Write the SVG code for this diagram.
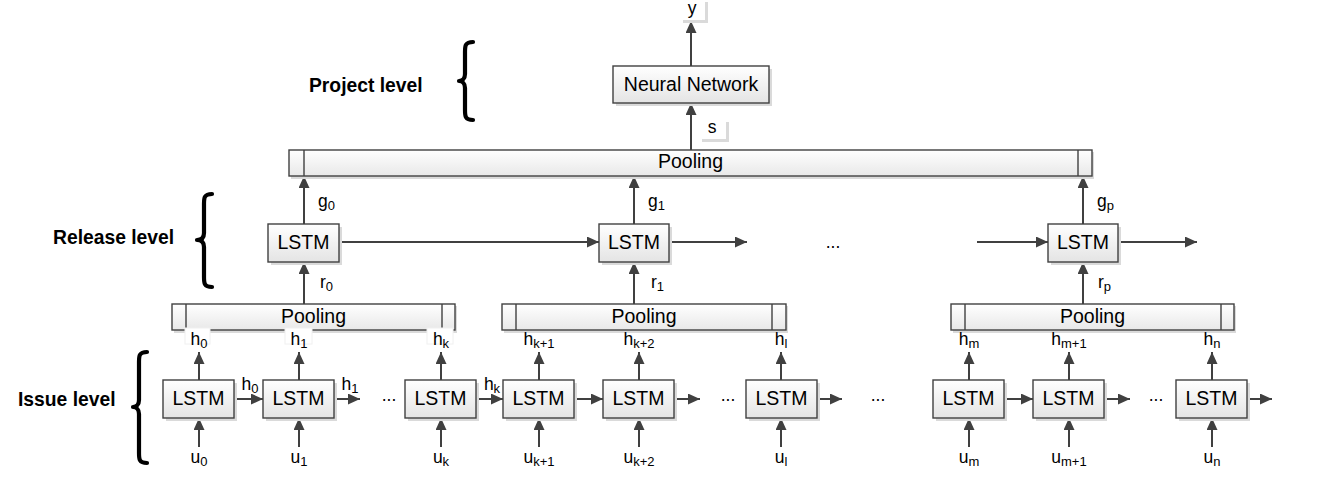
<svg xmlns="http://www.w3.org/2000/svg" width="1333" height="500" viewBox="0 0 1333 500">
<style>
text{font-family:"Liberation Sans",Arial,sans-serif;fill:#000}
.big{font-size:19.5px}
.lvl{font-size:19.3px;font-weight:bold}
.lab{font-size:17.5px}
.sub{font-size:13px}
.box{fill:url(#gb);stroke:#404040;stroke-width:1.4}
.pool{fill:url(#gp);stroke:#404040;stroke-width:1.4}
.div{stroke:#404040;stroke-width:1.4}
.sh{fill:#dadada}
.lb{fill:#fff;stroke:#f0f0f0;stroke-width:1}
.c line{stroke:#404040;stroke-width:2;marker-end:url(#ah)}
.br{fill:none;stroke:#000;stroke-width:4.2;stroke-linecap:round;stroke-linejoin:round}
</style>
<defs>
<linearGradient id="gb" x1="0" y1="0" x2="0" y2="1"><stop offset="0" stop-color="#ffffff"/><stop offset="1" stop-color="#e4e4e4"/></linearGradient>
<linearGradient id="gp" x1="0" y1="0" x2="0" y2="1"><stop offset="0" stop-color="#ffffff"/><stop offset="1" stop-color="#e8e8e8"/></linearGradient>
<marker id="ah" markerUnits="userSpaceOnUse" markerWidth="12" markerHeight="11" refX="12" refY="5.5" orient="auto"><path d="M0,0 L12,5.5 L0,11 z" fill="#404040"/></marker>
</defs>
<rect width="1333" height="500" fill="#fff"/>

<g id="level-project"><text class="lvl" x="309" y="92">Project level</text><path class="br" d="M473,42 C465,42 465,46 465,52 L465,74 C465,79 462,81 459,81 C462,81 465,83 465,88 L465,110 C465,116 465,120 473,120"/></g>
<g id="level-release"><text class="lvl" x="53" y="244">Release level</text><path class="br" d="M212,194 C204,194 204,198 204,204 L204,233 C204,238 201,240 197,240 C201,240 204,242 204,247 L204,277 C204,283 204,287 212,287"/></g>
<g id="level-issue"><text class="lvl" x="18" y="406">Issue level</text><path class="br" d="M147,352 C139,352 139,356 139,362 L139,400 C139,405 136,407 133,407 C136,407 139,409 139,414 L139,453 C139,459 139,463 147,463"/></g>

<g id="connectors" class="c">
<line x1="691" y1="66" x2="691" y2="21"/>
<line x1="691" y1="150" x2="691" y2="103"/>
<line x1="304" y1="224" x2="304" y2="176"/>
<line x1="634" y1="224" x2="634" y2="176"/>
<line x1="1083" y1="224" x2="1083" y2="176"/>
<line x1="304" y1="304" x2="304" y2="262"/>
<line x1="634" y1="304" x2="634" y2="262"/>
<line x1="1083" y1="304" x2="1083" y2="262"/>
<line x1="339" y1="242" x2="599" y2="242"/>
<line x1="669" y1="242" x2="747" y2="242"/>
<line x1="977" y1="242" x2="1048" y2="242"/>
<line x1="1118" y1="242" x2="1197" y2="242"/>
<line x1="199" y1="380" x2="199" y2="352"/>
<line x1="299" y1="380" x2="299" y2="352"/>
<line x1="441" y1="380" x2="441" y2="352"/>
<line x1="539" y1="380" x2="539" y2="352"/>
<line x1="639" y1="380" x2="639" y2="352"/>
<line x1="781" y1="380" x2="781" y2="352"/>
<line x1="969" y1="380" x2="969" y2="352"/>
<line x1="1069" y1="380" x2="1069" y2="352"/>
<line x1="1212" y1="380" x2="1212" y2="352"/>
<line x1="199" y1="447" x2="199" y2="418"/>
<line x1="299" y1="447" x2="299" y2="418"/>
<line x1="441" y1="447" x2="441" y2="418"/>
<line x1="539" y1="447" x2="539" y2="418"/>
<line x1="639" y1="447" x2="639" y2="418"/>
<line x1="781" y1="447" x2="781" y2="418"/>
<line x1="969" y1="447" x2="969" y2="418"/>
<line x1="1069" y1="447" x2="1069" y2="418"/>
<line x1="1212" y1="447" x2="1212" y2="418"/>
<line x1="234" y1="399" x2="263" y2="399"/>
<line x1="334" y1="399" x2="360" y2="399"/>
<line x1="476" y1="399" x2="503" y2="399"/>
<line x1="574" y1="399" x2="603" y2="399"/>
<line x1="674" y1="399" x2="700" y2="399"/>
<line x1="816" y1="399" x2="842" y2="399"/>
<line x1="1004" y1="399" x2="1033" y2="399"/>
<line x1="1104" y1="399" x2="1130" y2="399"/>
<line x1="1247" y1="399" x2="1272" y2="399"/>
</g>

<g id="out-y"><rect class="sh" x="683" y="2" width="25" height="21"/><rect x="680" y="-1" width="25" height="21" fill="#fff"/><text class="lab" x="692" y="14" text-anchor="middle">y</text></g>
<g id="neural-network"><rect class="sh" x="616" y="69" width="156" height="37"/><rect class="box" x="613" y="66" width="156" height="37"/><text class="big" x="691" y="91" text-anchor="middle">Neural Network</text></g>
<g id="label-s"><rect class="sh" x="702" y="122" width="27" height="20"/><rect x="699" y="119" width="27" height="20" fill="#fff"/><text class="lab" x="712" y="133" text-anchor="middle">s</text></g>

<g id="pool-top"><rect class="sh" x="291" y="152" width="803" height="27"/><rect class="pool" x="289" y="150" width="803" height="26"/><line class="div" x1="304" y1="150" x2="304" y2="176"/><line class="div" x1="1078" y1="150" x2="1078" y2="176"/><text class="big" x="690.5" y="168" text-anchor="middle">Pooling</text></g>
<g id="pool-a"><rect class="sh" x="174" y="306" width="283" height="27"/><rect class="pool" x="172" y="304" width="283" height="26"/><line class="div" x1="186" y1="304" x2="186" y2="330"/><line class="div" x1="442" y1="304" x2="442" y2="330"/><text class="big" x="313.5" y="323" text-anchor="middle">Pooling</text></g>
<g id="pool-b"><rect class="sh" x="504" y="306" width="284" height="27"/><rect class="pool" x="502" y="304" width="284" height="26"/><line class="div" x1="516" y1="304" x2="516" y2="330"/><line class="div" x1="772" y1="304" x2="772" y2="330"/><text class="big" x="644" y="323" text-anchor="middle">Pooling</text></g>
<g id="pool-c"><rect class="sh" x="953" y="306" width="283" height="27"/><rect class="pool" x="951" y="304" width="283" height="26"/><line class="div" x1="965" y1="304" x2="965" y2="330"/><line class="div" x1="1221" y1="304" x2="1221" y2="330"/><text class="big" x="1092.5" y="323" text-anchor="middle">Pooling</text></g>

<g id="release-lstm-0"><rect class="sh" x="271" y="227" width="71" height="38"/><rect class="box" x="268" y="224" width="71" height="38"/><text class="big" x="303.5" y="249" text-anchor="middle">LSTM</text>
<text class="lab" x="318" y="207">g<tspan class="sub" dy="3">0</tspan></text><text class="lab" x="320" y="288">r<tspan class="sub" dy="3">0</tspan></text></g>
<g id="release-lstm-1"><rect class="sh" x="602" y="227" width="70" height="38"/><rect class="box" x="599" y="224" width="70" height="38"/><text class="big" x="634" y="249" text-anchor="middle">LSTM</text>
<text class="lab" x="648" y="207">g<tspan class="sub" dy="3">1</tspan></text><text class="lab" x="651" y="288">r<tspan class="sub" dy="3">1</tspan></text></g>
<text class="lab" x="833" y="248" text-anchor="middle">...</text>
<g id="release-lstm-p"><rect class="sh" x="1051" y="227" width="70" height="38"/><rect class="box" x="1048" y="224" width="70" height="38"/><text class="big" x="1083" y="249" text-anchor="middle">LSTM</text>
<text class="lab" x="1097" y="207">g<tspan class="sub" dy="3">p</tspan></text><text class="lab" x="1098" y="288">r<tspan class="sub" dy="3">p</tspan></text></g>

<rect class="lb" x="185" y="328" width="25" height="16"/>
<rect class="lb" x="285" y="328" width="27" height="16"/>
<rect class="lb" x="427" y="328" width="26" height="16"/>

<g id="issue-lstm-0"><rect class="sh" x="166" y="383" width="71" height="38"/><rect class="box" x="163" y="380" width="71" height="38"/><text class="big" x="198.5" y="405" text-anchor="middle">LSTM</text>
<text class="lab" x="199" y="345" text-anchor="middle">h<tspan class="sub" dy="3">0</tspan></text><text class="lab" x="199" y="463" text-anchor="middle">u<tspan class="sub" dy="3">0</tspan></text><text class="lab" x="250" y="390" text-anchor="middle">h<tspan class="sub" dy="3">0</tspan></text></g>
<g id="issue-lstm-1"><rect class="sh" x="266" y="383" width="71" height="38"/><rect class="box" x="263" y="380" width="71" height="38"/><text class="big" x="298.5" y="405" text-anchor="middle">LSTM</text>
<text class="lab" x="299" y="345" text-anchor="middle">h<tspan class="sub" dy="3">1</tspan></text><text class="lab" x="299" y="463" text-anchor="middle">u<tspan class="sub" dy="3">1</tspan></text><text class="lab" x="350" y="390" text-anchor="middle">h<tspan class="sub" dy="3">1</tspan></text></g>
<text class="lab" x="389" y="401" text-anchor="middle">...</text>
<g id="issue-lstm-k"><rect class="sh" x="408" y="383" width="71" height="38"/><rect class="box" x="405" y="380" width="71" height="38"/><text class="big" x="440.5" y="405" text-anchor="middle">LSTM</text>
<text class="lab" x="441" y="345" text-anchor="middle">h<tspan class="sub" dy="3">k</tspan></text><text class="lab" x="441" y="463" text-anchor="middle">u<tspan class="sub" dy="3">k</tspan></text><text class="lab" x="492" y="390" text-anchor="middle">h<tspan class="sub" dy="3">k</tspan></text></g>
<g id="issue-lstm-k1"><rect class="sh" x="506" y="383" width="71" height="38"/><rect class="box" x="503" y="380" width="71" height="38"/><text class="big" x="538.5" y="405" text-anchor="middle">LSTM</text>
<text class="lab" x="539" y="345" text-anchor="middle">h<tspan class="sub" dy="3">k+1</tspan></text><text class="lab" x="539" y="463" text-anchor="middle">u<tspan class="sub" dy="3">k+1</tspan></text></g>
<g id="issue-lstm-k2"><rect class="sh" x="606" y="383" width="71" height="38"/><rect class="box" x="603" y="380" width="71" height="38"/><text class="big" x="638.5" y="405" text-anchor="middle">LSTM</text>
<text class="lab" x="639" y="345" text-anchor="middle">h<tspan class="sub" dy="3">k+2</tspan></text><text class="lab" x="639" y="463" text-anchor="middle">u<tspan class="sub" dy="3">k+2</tspan></text></g>
<text class="lab" x="728" y="401" text-anchor="middle">...</text>
<g id="issue-lstm-l"><rect class="sh" x="749" y="383" width="71" height="38"/><rect class="box" x="746" y="380" width="71" height="38"/><text class="big" x="781.5" y="405" text-anchor="middle">LSTM</text>
<text class="lab" x="781" y="345" text-anchor="middle">h<tspan class="sub" dy="3">l</tspan></text><text class="lab" x="781" y="463" text-anchor="middle">u<tspan class="sub" dy="3">l</tspan></text></g>
<text class="lab" x="878" y="401" text-anchor="middle">...</text>
<g id="issue-lstm-m"><rect class="sh" x="936" y="383" width="71" height="38"/><rect class="box" x="933" y="380" width="71" height="38"/><text class="big" x="968.5" y="405" text-anchor="middle">LSTM</text>
<text class="lab" x="969" y="345" text-anchor="middle">h<tspan class="sub" dy="3">m</tspan></text><text class="lab" x="969" y="463" text-anchor="middle">u<tspan class="sub" dy="3">m</tspan></text></g>
<g id="issue-lstm-m1"><rect class="sh" x="1036" y="383" width="71" height="38"/><rect class="box" x="1033" y="380" width="71" height="38"/><text class="big" x="1068.5" y="405" text-anchor="middle">LSTM</text>
<text class="lab" x="1069" y="345" text-anchor="middle">h<tspan class="sub" dy="3">m+1</tspan></text><text class="lab" x="1069" y="463" text-anchor="middle">u<tspan class="sub" dy="3">m+1</tspan></text></g>
<text class="lab" x="1156" y="401" text-anchor="middle">...</text>
<g id="issue-lstm-n"><rect class="sh" x="1179" y="383" width="71" height="38"/><rect class="box" x="1176" y="380" width="71" height="38"/><text class="big" x="1211.5" y="405" text-anchor="middle">LSTM</text>
<text class="lab" x="1212" y="345" text-anchor="middle">h<tspan class="sub" dy="3">n</tspan></text><text class="lab" x="1212" y="463" text-anchor="middle">u<tspan class="sub" dy="3">n</tspan></text></g>
</svg>
